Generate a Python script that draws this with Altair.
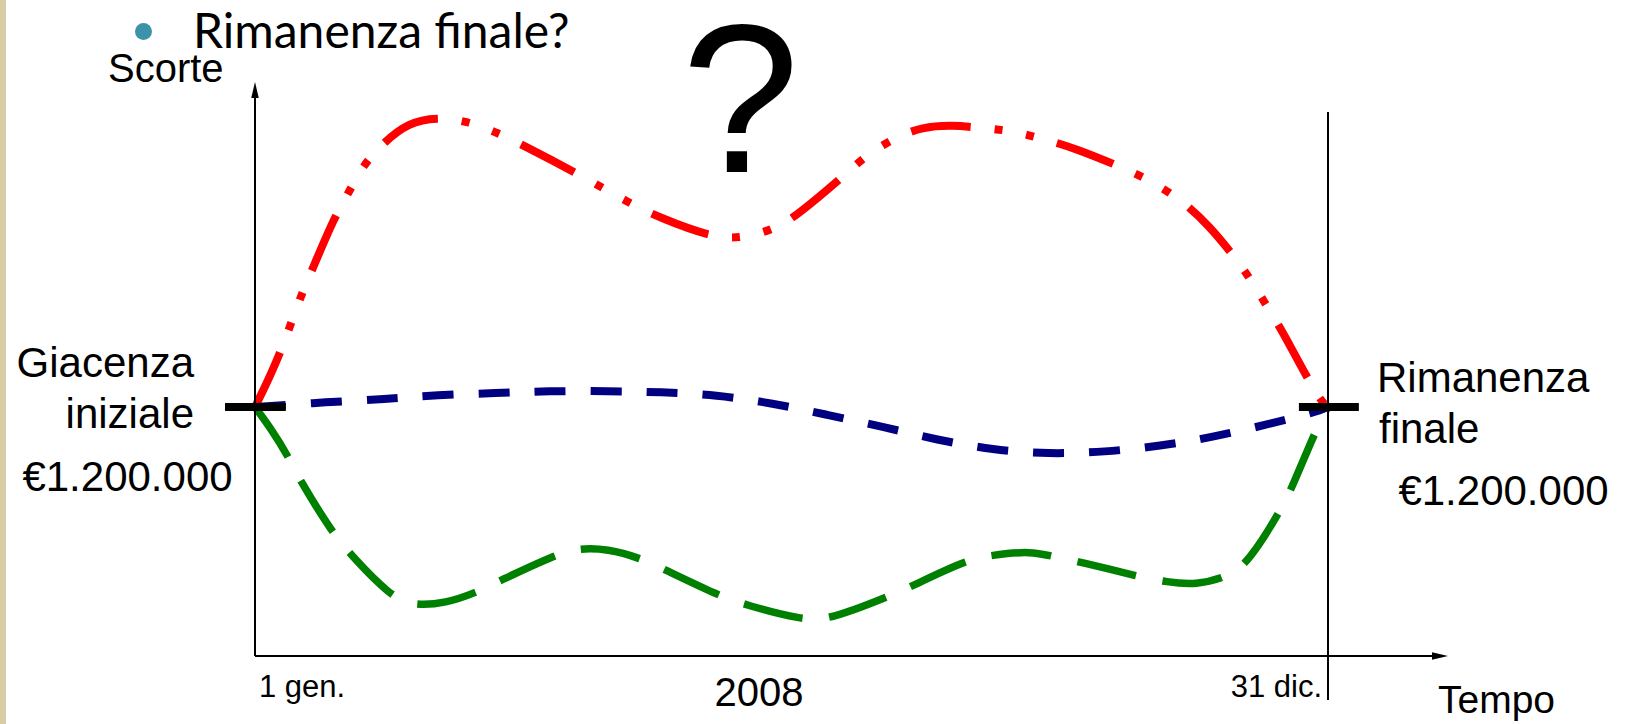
import altair as alt
import pandas as pd

# --- Stock level scenarios over the year (day of year, thousands of EUR) ---
red_day = [0, 8, 15, 19, 27, 32, 37, 44, 52, 62, 72, 82, 91, 110, 128, 137, 156, 166,
           177, 185, 201, 208, 218, 227, 237, 248, 258, 268, 278, 298, 306, 315, 324,
           336, 341, 347, 352, 362, 365]
red_val = [1200, 1431, 1716, 1846, 2116, 2236, 2371, 2477, 2569, 2597, 2578, 2525, 2463,
           2323, 2178, 2116, 2014, 2014, 2058, 2130, 2323, 2414, 2501, 2549, 2559, 2544,
           2530, 2491, 2453, 2337, 2279, 2197, 2085, 1875, 1759, 1624, 1499, 1234, 1200]

blue_day = [0, 25, 44, 62, 82, 100, 120, 138, 157, 176, 195, 214, 232, 251, 270, 289,
            308, 326, 345, 361, 365]
blue_val = [1200, 1224, 1238, 1258, 1267, 1277, 1277, 1272, 1258, 1219, 1161, 1104, 1041,
            993, 973, 983, 1012, 1055, 1118, 1176, 1200]

green_day = [0, 6, 11, 15, 26, 32, 46, 54, 65, 75, 83, 102, 110, 120, 131, 139, 158, 167,
             186, 196, 215, 223, 242, 251, 264, 272, 281, 301, 310, 320, 331, 338, 349,
             353, 361, 365]
green_val = [1200, 1084, 969, 853, 602, 496, 289, 241, 255, 304, 361, 487, 520, 516, 472,
             419, 289, 246, 173, 178, 284, 333, 463, 487, 506, 477, 453, 381, 357, 342,
             381, 453, 704, 819, 1094, 1200]

opening_stock = 1200   # giacenza iniziale, k EUR
closing_stock = 1200   # rimanenza finale, k EUR
year_end = 365

# --- canvas / scale set-up ---
W, H = 1629, 724
ORIGIN_X, ORIGIN_Y = 255, 656          # where the two axes meet
DAYS_PER_PX = 365 / 1073
KEUR_PER_PX = 1200 / 249

xs = alt.Scale(domain=[-ORIGIN_X * DAYS_PER_PX, (W - ORIGIN_X) * DAYS_PER_PX],
               nice=False, zero=False)
ys = alt.Scale(domain=[-(H - ORIGIN_Y) * KEUR_PER_PX, ORIGIN_Y * KEUR_PER_PX],
               nice=False, zero=False)


def series(days, vals, color, dash, width):
    df = pd.DataFrame({"giorno": days, "scorte": vals})
    return alt.Chart(df).mark_line(
        color=color, strokeDash=dash, strokeWidth=width, strokeCap="butt",
        interpolate="basis"
    ).encode(
        x=alt.X("giorno:Q", scale=xs, axis=None),
        y=alt.Y("scorte:Q", scale=ys, axis=None),
    )


red = series(red_day, red_val, "#FF0000", [60, 24, 8, 24, 8, 24], 8)
blue = series(blue_day, blue_val, "#000080", [31, 25], 8)
green = series(green_day, green_val, "#008000", [60, 27], 7.5)

# axes, year-end marker and the opening/closing ticks
guides = pd.DataFrame({
    "x":  [0, 0, year_end, -10.2, year_end - 9.9],
    "x2": [0, 401, year_end, 10.5, year_end + 10.5],
    "y":  [0, 0, -212, opening_stock, closing_stock],
    "y2": [2694, 0, 2622, opening_stock, closing_stock],
    "w":  [2, 2, 2, 8, 8],
})
guide_rules = alt.Chart(guides).mark_rule(color="black", strokeCap="butt").encode(
    x=alt.X("x:Q", scale=xs, axis=None), x2="x2:Q",
    y=alt.Y("y:Q", scale=ys, axis=None), y2="y2:Q",
    strokeWidth=alt.StrokeWidth("w:Q", scale=None),
)

up_arrow = alt.Chart(pd.DataFrame({"x": [0], "y": [2728]})).mark_point(
    shape="M0,-1L0.47,1L-0.47,1Z", filled=True, color="black", size=256, opacity=1
).encode(x=alt.X("x:Q", scale=xs, axis=None), y=alt.Y("y:Q", scale=ys, axis=None))

right_arrow = alt.Chart(pd.DataFrame({"x": [403.1], "y": [0]})).mark_point(
    shape="M1,0L-1,0.47L-1,-0.47Z", filled=True, color="black", size=256, opacity=1
).encode(x=alt.X("x:Q", scale=xs, axis=None), y=alt.Y("y:Q", scale=ys, axis=None))


def label(text, x, y, size, align="left", font="Liberation Sans", color="black"):
    return alt.Chart(pd.DataFrame({"t": [text]})).mark_text(
        align=align, baseline="alphabetic", font=font, fontSize=size, color=color
    ).encode(x=alt.value(x), y=alt.value(y), text="t:N")


strip = alt.Chart(pd.DataFrame({"a": [0]})).mark_rect(color="#d8cba5").encode(
    x=alt.value(0), x2=alt.value(6), y=alt.value(0), y2=alt.value(H)
)

bullet = alt.Chart(pd.DataFrame({"a": [0]})).mark_point(
    shape="circle", filled=True, color="#3c92a9", size=289, opacity=1
).encode(x=alt.value(143.5), y=alt.value(31.5))

texts = [
    label("Rimanenza finale?", 193, 48, 48, font="Lato"),
    label("?", 740.5, 172, 212, align="center"),
    label("Scorte", 108, 82, 40),
    label("Giacenza", 194, 377, 42, align="right"),
    label("iniziale", 194, 428, 42, align="right"),
    label("€1.200.000", 127.5, 491, 42, align="center"),
    label("Rimanenza", 1377, 392, 42),
    label("finale", 1379, 443, 42),
    label("€1.200.000", 1503.5, 505, 42, align="center"),
    label("1 gen.", 259, 697, 31),
    label("31 dic.", 1322, 697, 31, align="right"),
    label("2008", 759, 706, 40, align="center"),
    label("Tempo", 1438, 713, 39),
]

chart = alt.layer(
    strip, red, blue, green, guide_rules, up_arrow, right_arrow, bullet, *texts
).properties(
    width=W, height=H, padding=0, autosize=alt.AutoSizeParams(type="none"),
    background="white",
).configure_view(stroke=None)

chart.save("out.html", embed_options={"renderer": "svg", "actions": False})
